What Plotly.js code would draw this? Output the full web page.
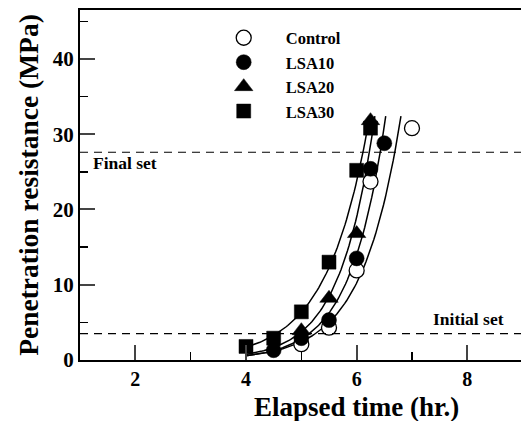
<!DOCTYPE html>
<html><head><meta charset="utf-8">
<script src="https://cdn.plot.ly/plotly-3.0.1.min.js"></script>
<style>html,body{margin:0;padding:0;background:#fff}#chart{width:521px;height:421px}</style>
</head><body><div id="chart"></div>
<script>
// Data
const seriesNames = ["Control", "LSA10", "LSA20", "LSA30"];
const controlX = [5.0, 5.5, 6.0, 6.25, 7.0];
const controlY = [2.1, 4.3, 11.9, 23.7, 30.8];
const lsa10X = [4.5, 5.0, 5.5, 6.0, 6.25, 6.5];
const lsa10Y = [1.3, 2.9, 5.3, 13.5, 25.4, 28.8];
const lsa20X = [5.0, 5.5, 6.0, 6.25];
const lsa20Y = [3.9, 8.2, 16.8, 31.8];
const lsa30X = [4.0, 4.5, 5.0, 5.5, 6.0, 6.25];
const lsa30Y = [1.8, 2.9, 6.4, 13.0, 25.2, 30.8];
const initialSet = 3.5;
const finalSet = 27.6;
const fitStartX = [4.0, 4.0, 4.0, 4.0];
const fitEndY = 32.4;
const xTicks = [2, 4, 6, 8];
const yTicks = [0, 10, 20, 30, 40];
const xTitle = "Elapsed time (hr.)";
const yTitle = "Penetration resistance (MPa)";

const F = "Liberation Serif, Times New Roman, serif";
const xs = [controlX, lsa10X, lsa20X, lsa30X];
const ys = [controlY, lsa10Y, lsa20Y, lsa30Y];
const symbols = ["circle", "circle", "triangle-up", "square"];
const sizes = [15, 15, 16, 14];

// exponential fit y = a*exp(b x) via log-linear least squares
function fit(x, y) {
  const n = x.length;
  const ly = y.map(Math.log);
  const mx = x.reduce((s, v) => s + v, 0) / n;
  const my = ly.reduce((s, v) => s + v, 0) / n;
  let sxx = 0, sxy = 0;
  for (let i = 0; i < n; i++) { sxx += (x[i]-mx)**2; sxy += (x[i]-mx)*(ly[i]-my); }
  const b = sxy / sxx;
  return {b: b, c: my - b*mx};
}

const traces = [];
for (let k = 0; k < 4; k++) {
  const f = fit(xs[k], ys[k]);
  const xEnd = (Math.log(fitEndY) - f.c) / f.b;
  const cx = [], cy = [];
  for (let i = 0; i <= 80; i++) {
    const xv = fitStartX[k] + (xEnd - fitStartX[k]) * i / 80;
    cx.push(xv); cy.push(Math.exp(f.c + f.b * xv));
  }
  traces.push({x: cx, y: cy, mode: "lines", line: {color: "#000", width: 1.5},
    showlegend: false, hoverinfo: "skip"});
}
for (let k = 0; k < 4; k++) {
  traces.push({x: xs[k], y: ys[k], mode: "markers", name: seriesNames[k],
    marker: {symbol: symbols[k], size: sizes[k], color: k === 0 ? "#fff" : "#000",
      line: {color: "#000", width: k === 0 ? 1.3 : 0.5}},
    cliponaxis: false});
}

const layout = {
  width: 521, height: 421,
  margin: {l: 80, r: 0, t: 10, b: 61},
  paper_bgcolor: "#fff", plot_bgcolor: "#fff",
  font: {family: F, color: "#000"},
  showlegend: true,
  legend: {x: 0.276, y: 0.97, xanchor: "left", yanchor: "top", bgcolor: "rgba(0,0,0,0)",
    itemwidth: 74, font: {family: F, size: 16.5, weight: "bold"}, tracegroupgap: 0, traceorder: "normal"},
  xaxis: {range: [1, 8.97], tickvals: xTicks, ticks: "inside", ticklen: 15, tickwidth: 2,
    showline: true, linewidth: 2, linecolor: "#000", mirror: true, showgrid: false, zeroline: false,
    tickfont: {family: F, size: 20, weight: "bold"},
    minor: {dtick: 2, tick0: 1, ticks: "inside", ticklen: 8, tickwidth: 1.5, tickcolor: "#000"}},
  yaxis: {range: [0, 46.5], tickvals: yTicks, ticks: "inside", ticklen: 15, tickwidth: 2,
    showline: true, linewidth: 2, linecolor: "#000", showgrid: false, zeroline: false,
    tickfont: {family: F, size: 21, weight: "bold"},
    minor: {dtick: 10, tick0: 5, ticks: "inside", ticklen: 8, tickwidth: 1.5, tickcolor: "#000"},
    title: {text: yTitle, font: {family: F, size: 27.5, weight: "bold"}, standoff: 6}},
  shapes: [
    {type: "line", xref: "paper", x0: 0, x1: 1, yref: "y", y0: finalSet, y1: finalSet,
      line: {color: "#000", width: 1.2, dash: "8px,6px"}},
    {type: "line", xref: "paper", x0: 0, x1: 1, yref: "y", y0: initialSet, y1: initialSet,
      line: {color: "#000", width: 1.2, dash: "8px,6px"}}
  ],
  annotations: [
    {text: xTitle, xref: "paper", x: 0.626, xanchor: "center", yref: "paper", y: -0.133, yanchor: "middle",
      showarrow: false, font: {family: F, size: 27, weight: "bold"}},
    {text: "Final set", xref: "paper", x: 0.025, xanchor: "left", yref: "y", y: 26.2, yanchor: "middle",
      showarrow: false, font: {family: F, size: 17.5, weight: "bold"}},
    {text: "Initial set", xref: "paper", x: 0.965, xanchor: "right", yref: "y", y: 5.5, yanchor: "middle",
      showarrow: false, font: {family: F, size: 17.5, weight: "bold"}}
  ]
};
Plotly.newPlot("chart", traces, layout, {staticPlot: true, displayModeBar: false});
</script></body></html>
